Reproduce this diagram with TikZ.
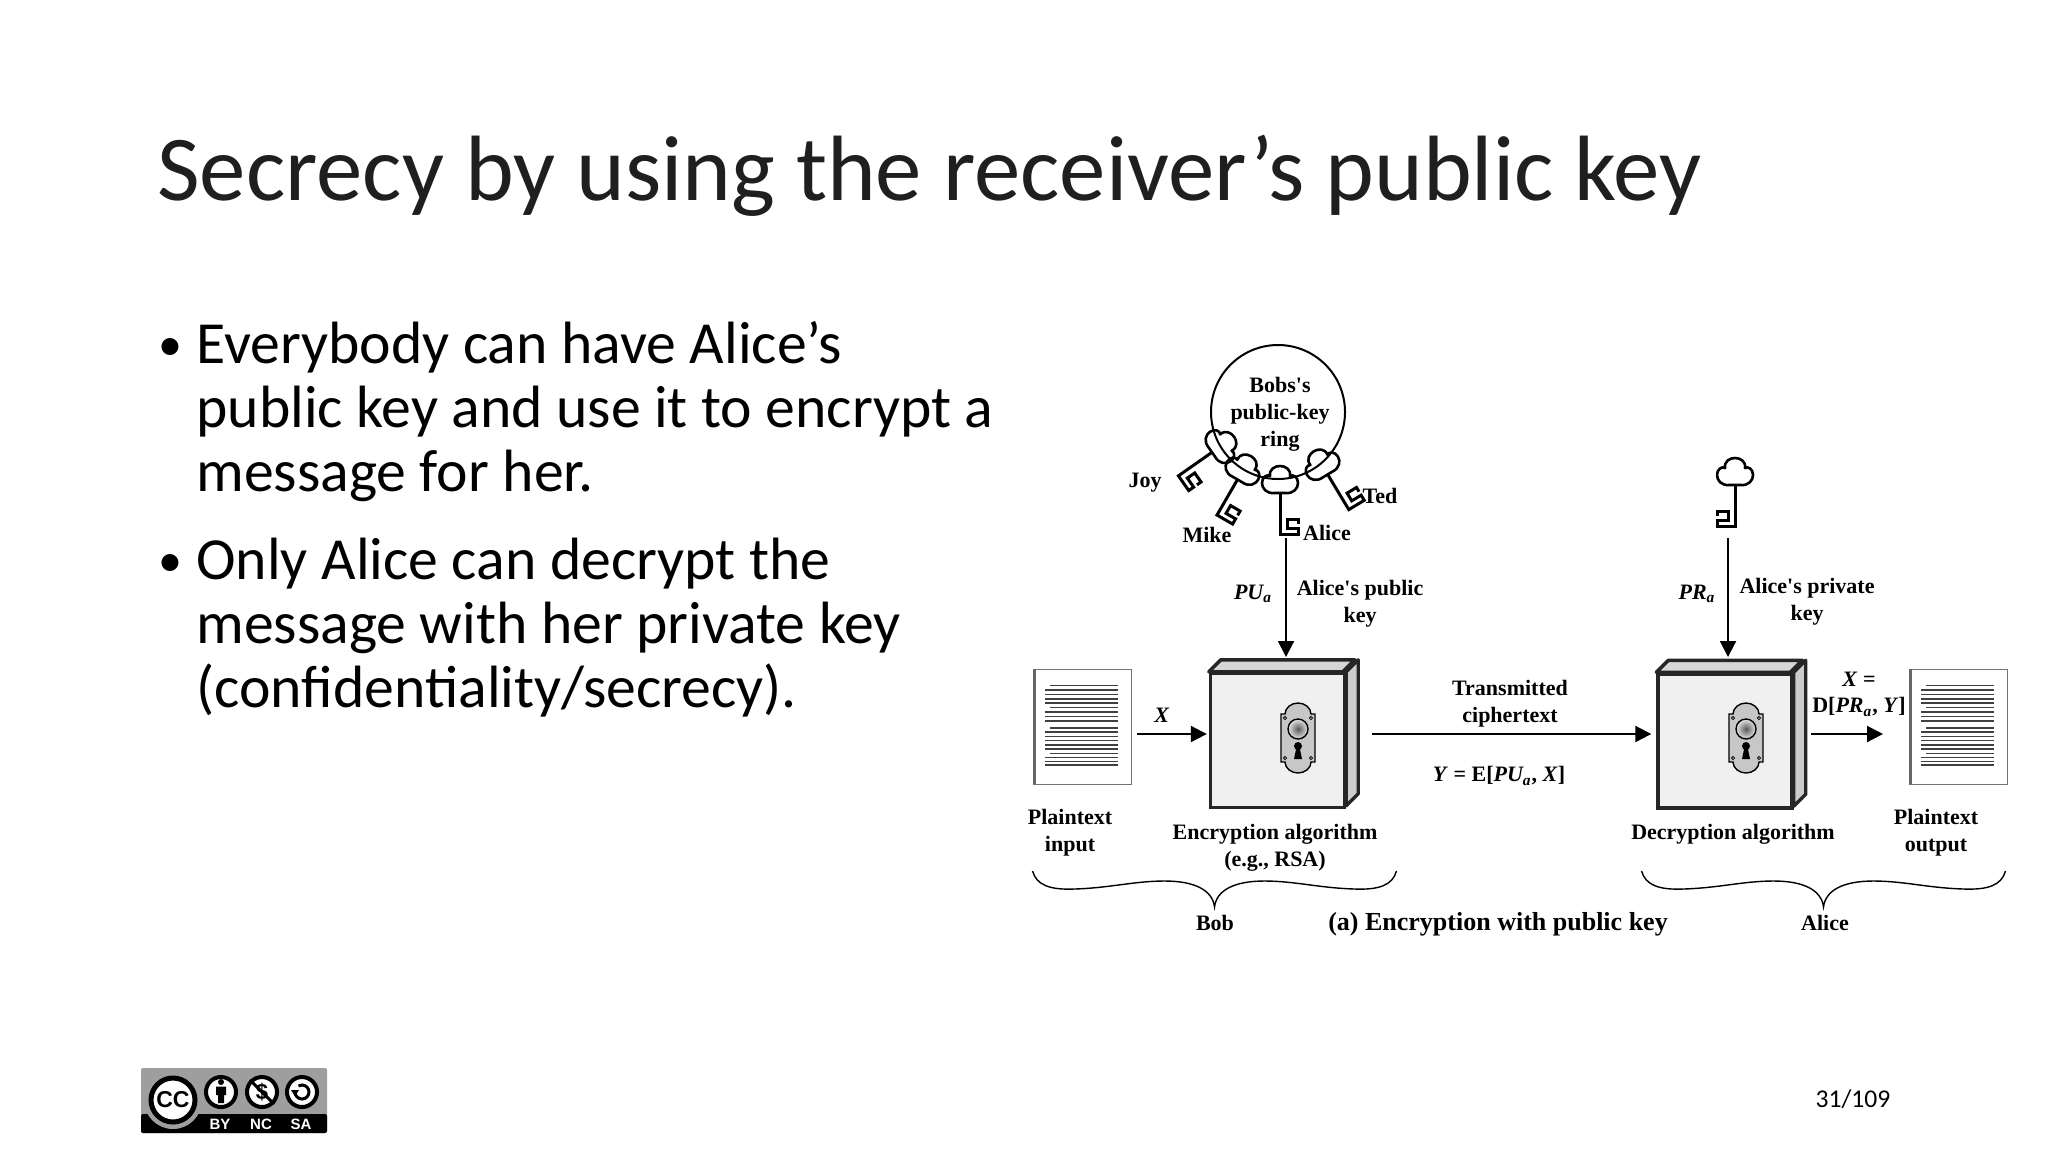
\documentclass[tikz,border=0pt]{standalone}
\usepackage{fontspec}
\setmainfont{Liberation Serif}
\newfontfamily\slidefont{Carlito}
\newfontfamily\badgefont{Liberation Sans}
\usetikzlibrary{arrows.meta}
\newcommand{\ital}[1]{\textit{#1}}
\tikzset{
  lbl/.style={inner sep=0pt,align=center,font=\bfseries\fontsize{11}{13.4}\selectfont},
  slidetext/.style={inner sep=0pt,anchor=base west,align=left,text=black,font=\slidefont\fontsize{29.85}{32}\selectfont},
  flow/.style={line width=1pt,-{Triangle[length=8pt,width=8pt]}},
  algobox/.style={draw=black!85,line width=1.7pt,fill=black!6,inner sep=0pt,minimum size=67pt},
  paper/.style={draw=black!55,line width=.5pt,fill=white,inner sep=0pt,minimum width=49pt,minimum height=57.5pt},
  badgering/.style={draw=black,line width=2pt,fill=white},
  badgelbl/.style={inner sep=0pt,text=white,font=\badgefont\bfseries\fontsize{7.5}{8}\selectfont},
  pics/keyicon/.style={code={
    \draw[line width=1.3pt,line join=round] (-5,11) .. controls (-14,12) and (-18,6) .. (-18,1)
      .. controls (-18,-5) and (-13,-8) .. (-10,-6) .. controls (-11,-13) and (-5,-16) .. (0,-16)
      .. controls (5,-16) and (11,-13) .. (10,-6) .. controls (13,-8) and (18,-5) .. (18,1)
      .. controls (18,6) and (14,12) .. (5,11) -- cycle;
    \draw[line width=1.5pt,line join=miter] (0,11) -- (0,52) -- (-18,52) -- (-18,46) -- (-7,46) -- (-7,37) -- (-18,37) -- (-18,42);
  }},
  pics/lockicon/.style={code={
    \draw[line width=.7pt,fill=black!22] (-17,-24) -- (-13,-24) .. controls (-13,-30) and (-7,-35) .. (0,-35)
      .. controls (7,-35) and (13,-30) .. (13,-24) -- (17,-24) -- (17,24) -- (13,24)
      .. controls (13,30) and (7,35) .. (0,35) .. controls (-7,35) and (-13,30) .. (-13,24)
      -- (-17,24) -- cycle;
    \shade[draw,line width=.7pt,inner color=black!65,outer color=black!10] (0,-9) circle (10);
    \fill (0,8) circle (4) (-1.5,9) -- (1.5,9) -- (4,21) -- (-4,21) -- cycle;
    \foreach \sx in {-13,13} \foreach \sy in {-20,20} \draw[line width=.4pt] (\sx,\sy) circle (1.6);
  }},
  pics/paperlines/.style={code={
    \fill[black!60] (-49,-57.5) rectangle (-46,57.5);
    \foreach \ry/\rx in {-41/-32,-36.6/-37,-32.2/-37,-27.8/-37,-23.4/-37,-19/-32,-14.6/-37,-10.2/-37,-5.8/-37,
      1.2/-32,5.5/-37,9.8/-37,14/-37,18.2/-37,22.5/-37,26.8/-32,31/-37,35/-37,38.5/-37}
      \draw[line width=.8pt,black!75] (\rx,\ry) -- (36,\ry);
  }},
  pics/braceicon/.style={code={
    \draw[line width=.7pt] (-182,-36) .. controls (-178,-22) and (-165,-17) .. (-140,-18)
      .. controls (-105,-19) and (-80,-26) .. (-50,-26) .. controls (-20,-26) and (-2,-17) .. (0,0)
      .. controls (2,-17) and (20,-26) .. (50,-26) .. controls (80,-26) and (105,-19) .. (140,-18)
      .. controls (165,-17) and (178,-22) .. (182,-36);
  }},
}
\begin{document}
\begin{tikzpicture}[x=.5pt,y=-.5pt]
  \useasboundingbox (0,0) rectangle (2048,1152);
  \fill[white] (0,0) rectangle (2048,1152);
  \node[inner sep=0pt,anchor=base west,font=\slidefont\fontsize{46.4}{50}\selectfont,text=black!88] (title) at (157,200) {Secrecy by using the receiver’s public key};
  \node[slidetext,font=\slidefont\fontsize{24}{32}\selectfont] (dotone) at (158,360) {•};
  \node[slidetext] (bodyone) at (196,491) {Everybody can have Alice’s\\public key and use it to encrypt a\\message for her.};
  \node[slidetext,font=\slidefont\fontsize{24}{32}\selectfont] (dottwo) at (158,576) {•};
  \node[slidetext] (bodytwo) at (196,707) {Only Alice can decrypt the\\message with her private key\\(confidentiality/secrecy).};

  \node[draw,circle,line width=1pt,minimum size=67pt,inner sep=0pt] (ring) at (1278,412) {};
  \node[lbl] (ringtext) at (1280,414) {Bobs{\textquotesingle}s\\public-key\\ring};
  \pic[rotate=-55,xscale=-1] at (1221,446) {keyicon};
  \pic[rotate=-30,xscale=-1] at (1243,470) {keyicon};
  \pic[xscale=-1] at (1280,482) {keyicon};
  \pic[rotate=31,xscale=-1] at (1322,465) {keyicon};
  \node[lbl] (joy) at (1145,483) {Joy};
  \node[lbl] (mike) at (1207,535) {Mike};
  \node[lbl] (alicekey) at (1327,533) {Alice};
  \node[lbl] (ted) at (1380,496) {Ted};
  \pic at (1735,474) {keyicon};

  \node[algobox] (enc) at (1277.5,740.5) {};
  \node[algobox] (dec) at (1725,741) {};
  \foreach \boxname in {enc,dec} {
    \draw[line width=1.7pt,line join=round,draw=black!85,fill=black!16] (\boxname.north west) -- ++(12,-12) -- ++(134,0) -- ++(-12,12) -- cycle;
    \draw[line width=1.7pt,line join=round,draw=black!85,fill=black!20] (\boxname.north east) -- ++(12,-12) -- ++(0,134) -- ++(-12,12) -- cycle;
  }
  \pic at (1298,738) {lockicon};
  \pic at (1746,738) {lockicon};

  \node[paper] (plainin) at (1082,726.5) {};
  \pic at (plainin.center) {paperlines};
  \node[paper] (plainout) at (1958,726.5) {};
  \pic at (plainout.center) {paperlines};

  \coordinate (pubstart) at (1286,538);
  \coordinate (pubend) at (1286,657);
  \coordinate (privstart) at (1728,538);
  \coordinate (privend) at (1728,657);
  \coordinate (xstart) at (1137,734);
  \coordinate (transstart) at (1372,734);
  \coordinate (outstart) at (1811,734);
  \coordinate (outend) at (1883,734);
  \draw[flow] (pubstart) -- (pubend);
  \draw[flow] (privstart) -- (privend);
  \draw[flow,shorten >=1pt] (xstart) -- (xstart -| enc.west);
  \draw[flow,shorten >=2.5pt] (transstart) -- (transstart -| dec.west);
  \draw[flow] (outstart) -- (outend);

  \node[lbl] (pua) at (1253,594) {\ital{PU\textsubscript{a}}};
  \node[lbl] (pubkey) at (1360,604) {Alice{\textquotesingle}s public\\key};
  \node[lbl] (pra) at (1697,594) {\ital{PR\textsubscript{a}}};
  \node[lbl] (privkey) at (1807,602) {Alice{\textquotesingle}s private\\key};
  \node[lbl] (xlabel) at (1162,715) {\ital{X}};
  \node[lbl] (translabel) at (1510,704) {Transmitted\\ciphertext};
  \node[lbl] (ylabel) at (1499,776) {\ital{Y} = E[\ital{PU\textsubscript{a}}, \ital{X}]};
  \node[lbl] (xdec) at (1859,694) {\ital{X} =\\D[\ital{PR\textsubscript{a}}, \ital{Y}]};
  \node[lbl] (inlabel) at (1070,833) {Plaintext\\input};
  \node[lbl] (enclabel) at (1275,848) {Encryption algorithm\\(e.g., RSA)};
  \node[lbl] (declabel) at (1733,834) {Decryption algorithm};
  \node[lbl] (outlabel) at (1936,833) {Plaintext\\output};

  \pic at (1214.5,907) {braceicon};
  \pic at (1823.5,907) {braceicon};
  \node[lbl] (bob) at (1215,923) {Bob};
  \node[lbl] (alicebrace) at (1825,923) {Alice};
  \node[lbl,font=\bfseries\fontsize{13}{14}\selectfont] (caption) at (1498,924) {(a) Encryption with public key};

  \node[inner sep=0pt,font=\slidefont\fontsize{12.8}{14}\selectfont] (pagenum) at (1853,1099) {31/109};

  \fill[black!38,rounded corners=1pt] (141,1068) rectangle (327,1133);
  \fill[black,rounded corners=1pt] (141,1114) rectangle (327,1133);
  \fill[black!38] (173,1100) circle (29);
  \node[badgering,circle,line width=2.5pt,minimum size=22pt,inner sep=0pt,font=\badgefont\bfseries\fontsize{11.5}{12}\selectfont] (ccbadge) at (173,1100) {CC};
  \node[badgering,circle,minimum size=15pt,inner sep=0pt] (bybadge) at (221,1092) {};
  \node[badgering,circle,minimum size=15pt,inner sep=0pt,font=\badgefont\bfseries\fontsize{11}{11}\selectfont] (ncbadge) at (262,1092) {\$};
  \node[badgering,circle,minimum size=15pt,inner sep=0pt] (sabadge) at (302,1092) {};
  \fill (221,1082) circle (3) (216,1086.5) rectangle (226,1095) (218,1095) rectangle (224,1103);
  \draw[line width=1.5pt] (ncbadge.north west) -- (ncbadge.south east);
  \draw[line width=1.5pt] (sabadge.center) ++(-7,0) arc (180:-120:7);
  \fill (sabadge.center) ++(-11,-2) -- ++(8,0) -- ++(-4,6) -- cycle;
  \node[badgelbl] (bytext) at (220,1124) {BY};
  \node[badgelbl] (nctext) at (261,1124) {NC};
  \node[badgelbl] (satext) at (301,1124) {SA};
\end{tikzpicture}
\end{document}
